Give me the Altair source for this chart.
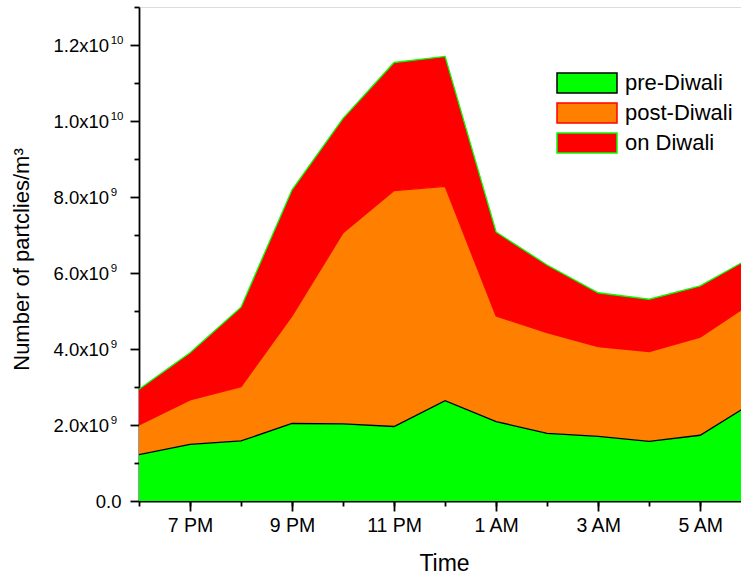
import json
import altair as alt
import pandas as pd

# ---- data ----
hour_labels = ["6 PM", "7 PM", "8 PM", "9 PM", "10 PM", "11 PM", "12 AM",
               "1 AM", "2 AM", "3 AM", "4 AM", "5 AM", "6 AM"]
hours = list(range(13))
series_names = ["pre-Diwali", "post-Diwali", "on Diwali"]
pre_diwali = [1.22e9, 1.49e9, 1.58e9, 2.04e9, 2.03e9, 1.96e9, 2.64e9,
              2.09e9, 1.78e9, 1.70e9, 1.57e9, 1.73e9, 2.56e9]
post_diwali = [0.78e9, 1.17e9, 1.43e9, 2.83e9, 5.03e9, 6.21e9, 5.64e9,
               2.78e9, 2.65e9, 2.36e9, 2.36e9, 2.58e9, 2.65e9]
on_diwali = [0.94e9, 1.24e9, 2.09e9, 3.32e9, 3.01e9, 3.37e9, 3.42e9,
             2.21e9, 1.78e9, 1.42e9, 1.38e9, 1.35e9, 1.20e9]
fill_colors = ["#00FF00", "#FF8000", "#FF0000"]
edge_colors = ["#000000", "#FF0000", "#00FF00"]
x_major = [1, 3, 5, 7, 9, 11]
x_minor = list(range(12))
y_major = [0, 2e9, 4e9, 6e9, 8e9, 1.0e10, 1.2e10]
y_label_base = ["0.0", "2.0x10", "4.0x10", "6.0x10", "8.0x10", "1.0x10", "1.2x10"]
y_label_exp = ["", "9", "9", "9", "9", "10", "10"]
y_minor = [1e9, 3e9, 5e9, 7e9, 9e9, 1.1e10, 1.3e10]

rows = []
for order, (name, vals) in enumerate(zip(series_names, [pre_diwali, post_diwali, on_diwali])):
    for h, v in zip(hours, vals):
        rows.append({"hour": h, "series": name, "value": v, "ord": order})
df = pd.DataFrame(rows)
ticks_df = pd.DataFrame({"v": y_major, "base": y_label_base, "exp": y_label_exp})

FONT = "Liberation Sans"
x_scale = alt.Scale(domain=[0, 11.8], nice=False, zero=False)
y_scale = alt.Scale(domain=[0, 1.3e10], nice=False)
fill_scale = alt.Scale(domain=series_names, range=fill_colors)
stroke_scale = alt.Scale(domain=series_names, range=edge_colors)

x_label_expr = json.dumps(hour_labels) + "[round(datum.value)]"

common_axis = dict(domainColor="black", tickColor="black", grid=False,
                   labelFont=FONT, labelColor="black", titleFont=FONT,
                   titleColor="black", titleFontWeight="normal")

x_axis_major = alt.Axis(values=x_major, labelExpr=x_label_expr, orient="bottom",
                        tickSize=10, tickWidth=1.8, domainWidth=1.8,
                        labelFontSize=19.5, labelPadding=5, title="Time",
                        titleFontSize=23, titleX=305, titleY=69,
                        titleBaseline="alphabetic", titleAlign="center",
                        **common_axis)
x_axis_minor = alt.Axis(values=x_minor, labels=False, domain=False, orient="bottom",
                        tickSize=5, tickWidth=1.8, title=None,
                        **common_axis)
y_axis_major = alt.Axis(values=y_major, labels=False, orient="left",
                        tickSize=9, tickWidth=1.8, domainWidth=1.8,
                        title="Number of partclies/m³", titleFontSize=22,
                        titleX=-111, titleY=252, titleAngle=270,
                        titleBaseline="alphabetic", titleAlign="center",
                        **common_axis)
y_axis_minor = alt.Axis(values=y_minor, labels=False, domain=False, orient="left",
                        tickSize=5, tickWidth=1.8, title=None,
                        **common_axis)

base = alt.Chart(df).transform_stack(
    stack="value", groupby=["hour"], as_=["y0", "y1"],
    sort=[alt.SortField("ord", order="ascending")],
)

legend = alt.Legend(
    orient="none", legendX=437, legendY=65, title=None, padding=0,
    symbolType="M-3,-1H3V1H-3Z", symbolSize=400,
    symbolStrokeWidth=1.5, symbolOpacity=1,
    labelFont=FONT, labelFontSize=22, labelColor="black", labelOffset=27,
    rowPadding=4,
)

areas = base.mark_area(clip=True, strokeWidth=0, opacity=1).encode(
    x=alt.X("hour:Q", scale=x_scale, axis=x_axis_major),
    y=alt.Y("y1:Q", scale=y_scale, axis=y_axis_major),
    y2="y0:Q",
    fill=alt.Fill("series:N", scale=fill_scale, legend=legend, sort=series_names),
    stroke=alt.Stroke("series:N", scale=stroke_scale, legend=legend, sort=series_names),
    order=alt.Order("ord:Q"),
)

lines = base.mark_line(clip=True, strokeWidth=1.3).encode(
    x=alt.X("hour:Q", scale=x_scale, axis=x_axis_minor),
    y=alt.Y("y1:Q", scale=y_scale, axis=y_axis_minor),
    stroke=alt.Stroke("series:N", scale=stroke_scale, legend=legend, sort=series_names),
    detail="series:N",
)

tick_base = alt.Chart(ticks_df).transform_filter("datum.v > 0").mark_text(
    align="right", baseline="alphabetic", font=FONT, fontSize=18.5, color="black", dy=7.3
).encode(
    x=alt.value(-30),
    y=alt.Y("v:Q", scale=y_scale, axis=None),
    text="base:N",
)
tick_zero = alt.Chart(ticks_df).transform_filter("datum.v == 0").mark_text(
    align="right", baseline="alphabetic", font=FONT, fontSize=18.5, color="black", dy=7.3
).encode(
    x=alt.value(-17.5),
    y=alt.Y("v:Q", scale=y_scale, axis=None),
    text="base:N",
)
tick_exp = alt.Chart(ticks_df).mark_text(
    align="left", baseline="alphabetic", font=FONT, fontSize=11.5, color="black", dy=-1
).encode(
    x=alt.value(-28.3),
    y=alt.Y("v:Q", scale=y_scale, axis=None),
    text="exp:N",
)

chart = alt.layer(areas, lines, tick_base, tick_zero, tick_exp).resolve_axis(
    x="independent", y="independent"
).properties(
    width=602, height=494,
    autosize=alt.AutoSizeParams(type="none"),
    padding={"left": 139, "top": 7, "right": 0, "bottom": 75},
).configure_view(stroke=None).configure(background="white")

chart.save("out.html", embed_options={"renderer": "svg", "actions": False})
